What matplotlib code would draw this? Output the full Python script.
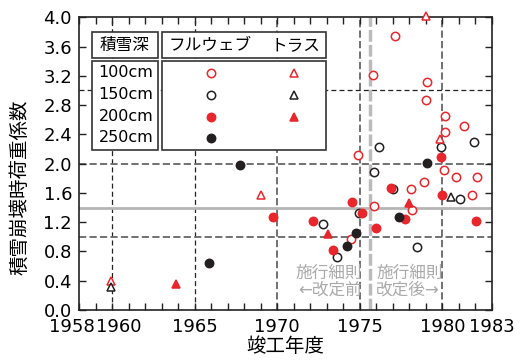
import matplotlib
matplotlib.use('Agg')
import matplotlib.pyplot as plt
from matplotlib.patches import Rectangle
from matplotlib.transforms import ScaledTranslation

plt.rcParams['font.family'] = ['DejaVu Sans', 'Noto Sans CJK JP']

red = '#e8262b'
blk = '#231f20'

# 100cm full web (red open circles)
fw100_year = [1977.15, 1975.8, 1979.05, 1979.0, 1980.15, 1980.15, 1981.3, 1974.9, 1980.1,
              1980.8, 1982.1, 1981.8, 1978.9, 1978.1, 1975.85, 1978.15, 1974.45]
fw100_val = [3.74, 3.21, 3.11, 2.87, 2.65, 2.43, 2.52, 2.12, 1.91,
             1.82, 1.82, 1.57, 1.75, 1.66, 1.42, 1.37, 0.97]
# 150cm full web (black open circles)
fw150_year = [1976.15, 1979.9, 1981.9, 1975.85, 1981.05, 1972.75, 1973.6, 1978.45, 1974.95, 1977.0]
fw150_val = [2.23, 2.23, 2.30, 1.88, 1.51, 1.18, 0.72, 0.86, 1.32, 1.65]
# 200cm full web (red filled circles)
fw200_year = [1969.75, 1972.15, 1973.35, 1974.5, 1975.15, 1975.95, 1976.9, 1977.75, 1979.9, 1979.95, 1982.05]
fw200_val = [1.27, 1.22, 0.82, 1.47, 1.33, 1.12, 1.67, 1.24, 2.09, 1.57, 1.21]
# 250cm full web (black filled circles)
fw250_year = [1967.75, 1965.85, 1974.75, 1974.2, 1977.35, 1979.05]
fw250_val = [1.98, 0.64, 1.05, 0.88, 1.27, 2.01]
# 100cm truss (red open triangles)
tr100_year = [1959.95, 1969.0, 1979.0, 1979.85]
tr100_val = [0.39, 1.57, 4.02, 2.33]
# 150cm truss (black open triangles)
tr150_year = [1959.95, 1980.5]
tr150_val = [0.32, 1.54]
# 200cm truss (red filled triangles)
tr200_year = [1963.85, 1973.05, 1978.0]
tr200_val = [0.36, 1.04, 1.46]

depths = ['100cm', '150cm', '200cm', '250cm']
xticks = [1958, 1960, 1965, 1970, 1975, 1980, 1983]
yticks = [0.0, 0.4, 0.8, 1.2, 1.6, 2.0, 2.4, 2.8, 3.2, 3.6, 4.0]

fig = plt.figure(figsize=(5.21, 3.6), dpi=100)
ax = fig.add_axes([0.1516, 0.1389, 0.7927, 0.8131])
ax.set_xlim(1958, 1983)
ax.set_ylim(0, 4.0)

# reference lines
thin = dict(color='#222222', lw=0.9, ls=(0, (4, 2.5)), zorder=1)
thick = dict(color='#666666', lw=1.3, ls=(0, (4, 1.8)), zorder=1)
for x in [1960, 1965]:
    ax.axvline(x, **thin)
for x in [1970, 1975, 1980]:
    ax.axvline(x, **thick)
ax.axhline(3.0, **thin)
for y in [1.0, 2.0]:
    ax.axhline(y, **thick)
ax.axhline(1.4, color='#b5b5b5', lw=2, zorder=1)
ax.axvline(1975.6, color='#bbbbbb', lw=2.5, ls=(0, (3.4, 0.9)), zorder=1)

ms = 6
mk = dict(ls='none', ms=ms, mew=1.1, zorder=4)
ax.plot(fw100_year, fw100_val, 'o', mfc='white', mec=red, **mk)
ax.plot(fw150_year, fw150_val, 'o', mfc='white', mec=blk, **mk)
ax.plot(fw200_year, fw200_val, 'o', mfc=red, mec=red, **mk)
ax.plot(fw250_year, fw250_val, 'o', mfc=blk, mec=blk, **mk)
ax.plot(tr100_year, tr100_val, '^', mfc='white', mec=red, clip_on=False, **mk)
ax.plot(tr150_year, tr150_val, '^', mfc='white', mec=blk, **mk)
ax.plot(tr200_year, tr200_val, '^', mfc=red, mec=red, **mk)

# annotations
ax.text(1975.1, 0.15, '施行細則\n←改定前', ha='right', va='bottom', color='#aaaaaa',
        fontsize=12, linespacing=0.95, zorder=3)
ax.text(1976.0, 0.15, '施行細則\n改定後→', ha='left', va='bottom', color='#aaaaaa',
        fontsize=12, linespacing=0.95, zorder=3)

# legend table
T = ax.transAxes
boxes = [(0.031, 0.861, 0.160, 0.088), (0.201, 0.861, 0.397, 0.088),
         (0.031, 0.547, 0.160, 0.304), (0.201, 0.547, 0.397, 0.304)]
for bx, by, bw, bh in boxes:
    ax.add_patch(Rectangle((bx, by), bw, bh, transform=T, fc='white', ec='#333333',
                           lw=1.2, zorder=5))
ax.text(0.111, 0.905, '積雪深', transform=T, ha='center', va='center', fontsize=12, zorder=6)
ax.text(0.318, 0.905, 'フルウェブ', transform=T, ha='center', va='center', fontsize=12, zorder=6)
ax.text(0.525, 0.905, 'トラス', transform=T, ha='center', va='center', fontsize=12, zorder=6)
row_y = [0.811, 0.736, 0.660, 0.589]
for lab, yy in zip(depths, row_y):
    ax.text(0.114, yy, lab, transform=T, ha='center', va='center', fontsize=11.5, zorder=6)
lg = dict(transform=T, ls='none', ms=ms, mew=1.1, zorder=6, clip_on=False)
ax.plot([0.320], [row_y[0]], 'o', mfc='white', mec=red, **lg)
ax.plot([0.320], [row_y[1]], 'o', mfc='white', mec=blk, **lg)
ax.plot([0.320], [row_y[2]], 'o', mfc=red, mec=red, **lg)
ax.plot([0.320], [row_y[3]], 'o', mfc=blk, mec=blk, **lg)
ax.plot([0.521], [row_y[0]], '^', mfc='white', mec=red, **lg)
ax.plot([0.521], [row_y[1]], '^', mfc='white', mec=blk, **lg)
ax.plot([0.521], [row_y[2]], '^', mfc=red, mec=red, **lg)

# axes
ax.set_xticks(xticks)
ax.set_xticks(range(1958, 1984), minor=True)
ax.set_yticks(yticks)
ax.set_yticklabels(['%.1f' % v for v in yticks])
ax.tick_params(which='both', direction='in', top=True, right=True, length=5,
               width=1, labelsize=13, color='#222222')
ax.tick_params(axis='x', pad=5.5)
ax.tick_params(axis='y', pad=5)
for s in ax.spines.values():
    s.set_linewidth(1.2)
    s.set_color('#222222')

labs = ax.get_xticklabels()
labs[0].set_transform(labs[0].get_transform() + ScaledTranslation(-0.07, 0, fig.dpi_scale_trans))
labs[1].set_transform(labs[1].get_transform() + ScaledTranslation(0.07, 0, fig.dpi_scale_trans))

ax.set_xlabel('竣工年度', fontsize=14, labelpad=1)
ax.set_ylabel('積雪崩壊時荷重係数', fontsize=14)
ax.yaxis.set_label_coords(-0.12, 0.42)

fig.savefig('out.png', dpi=100)
